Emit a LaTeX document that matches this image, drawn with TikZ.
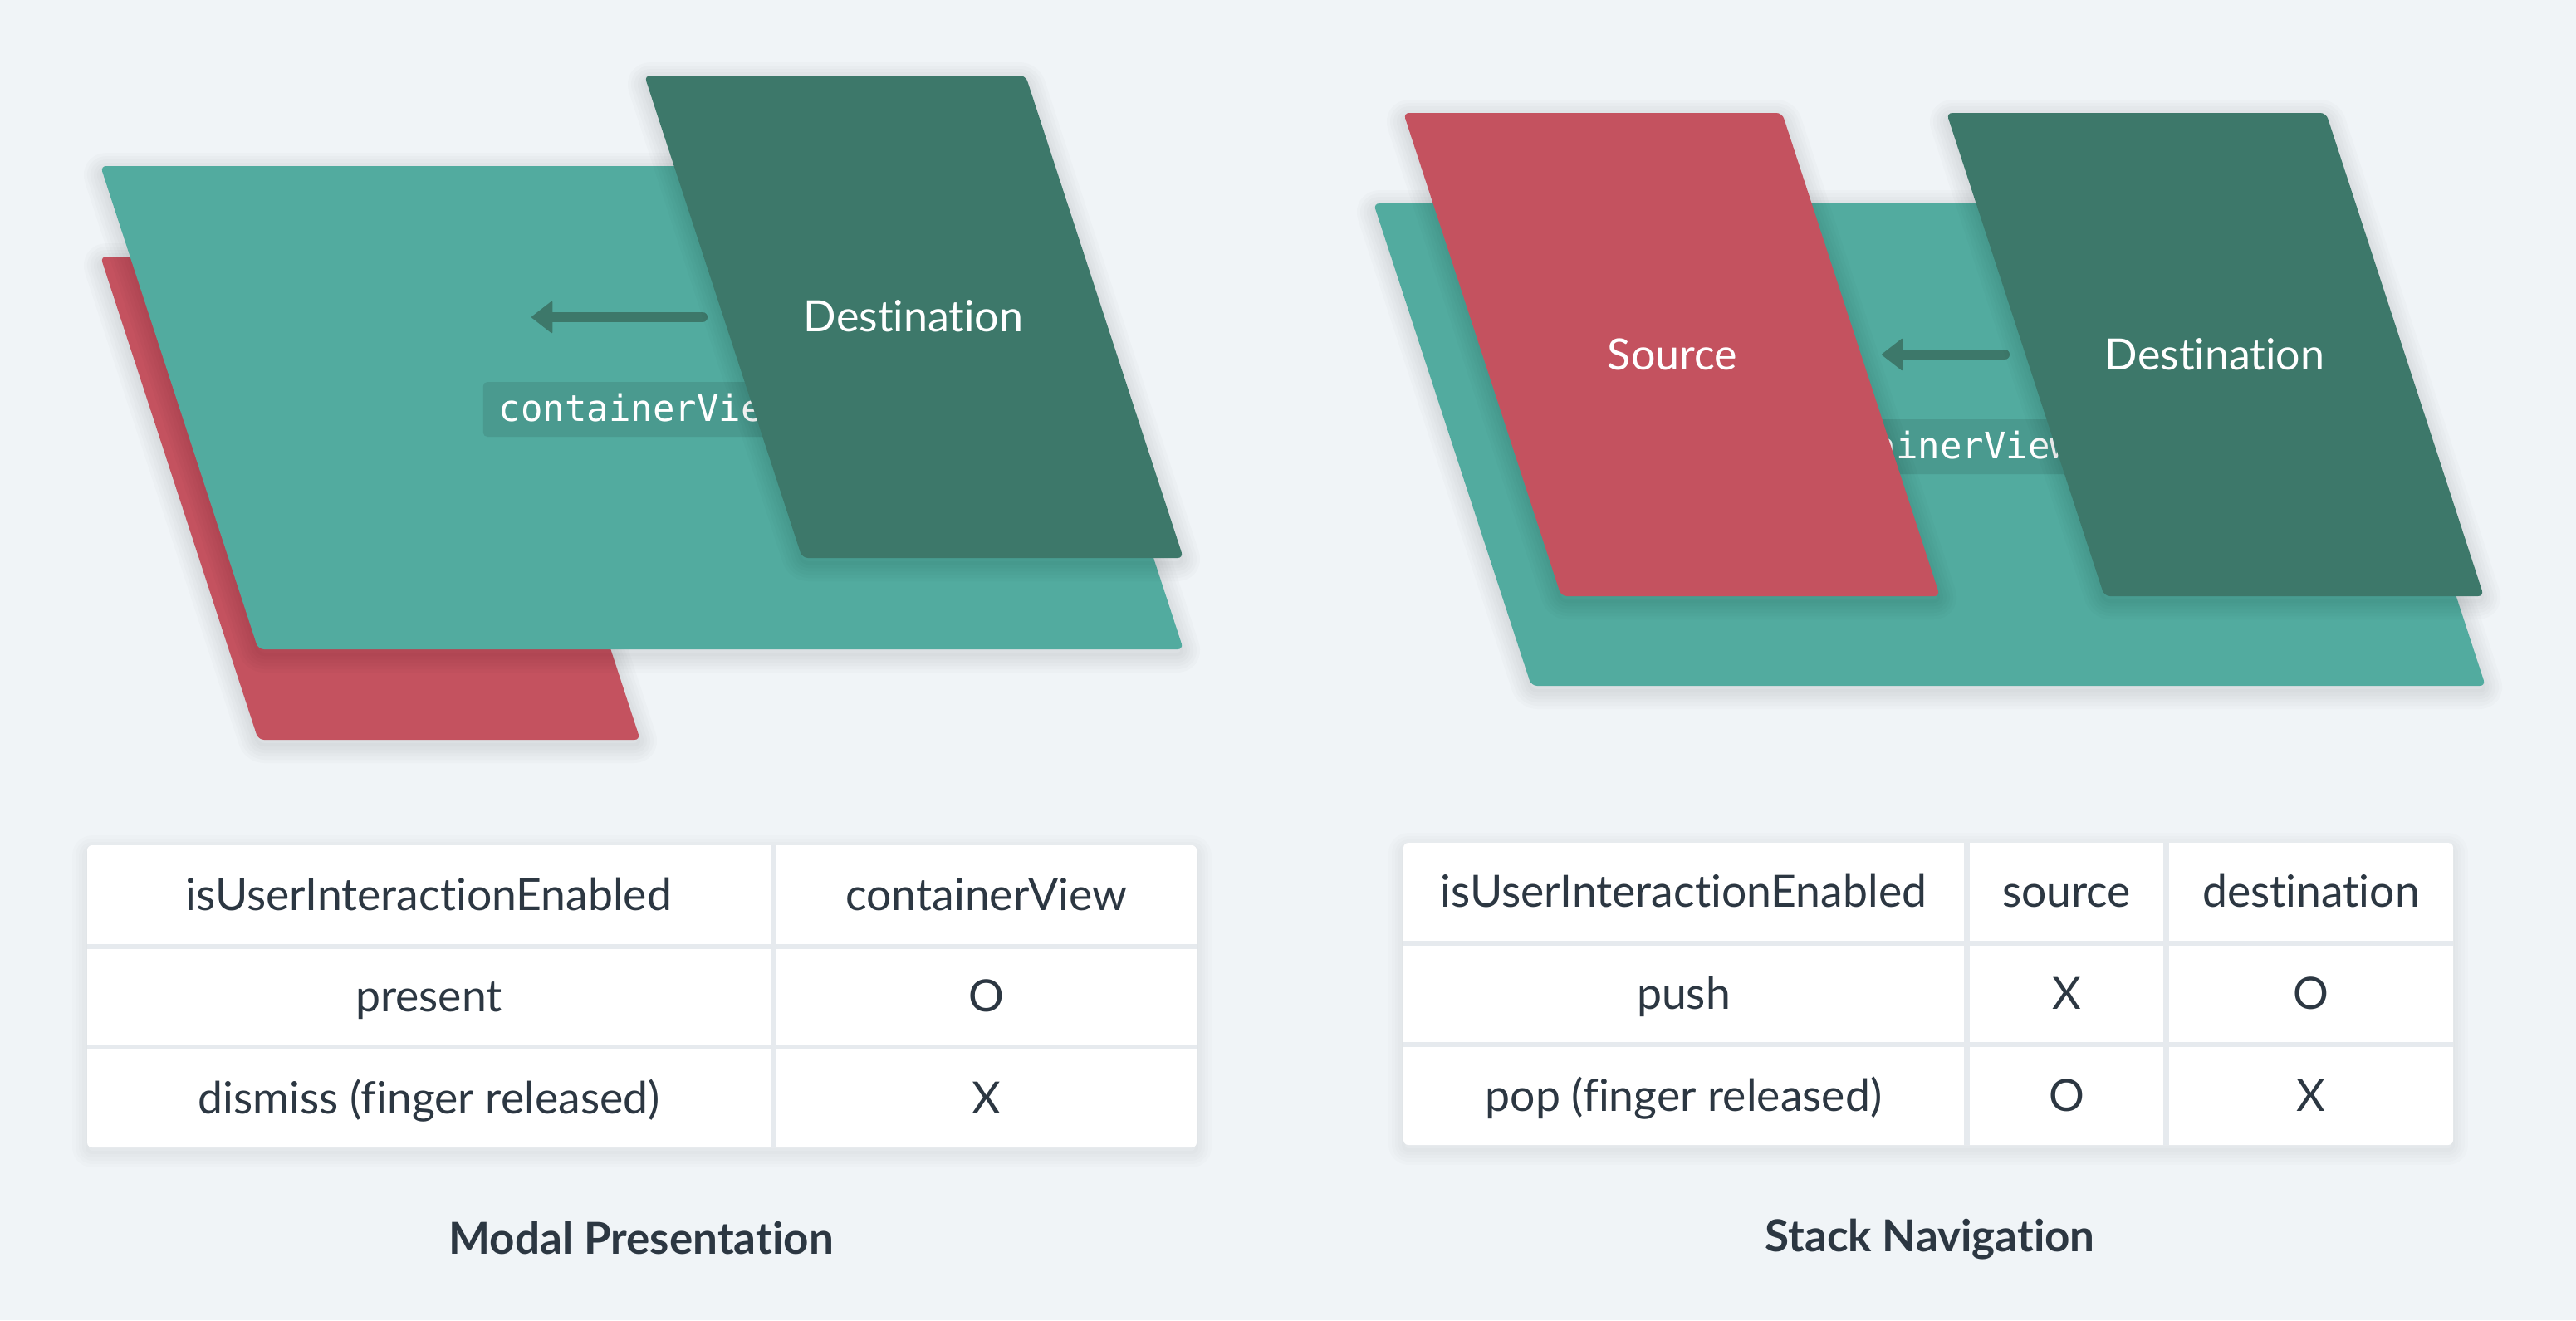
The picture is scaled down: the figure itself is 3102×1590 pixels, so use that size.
\documentclass[tikz,border=0pt]{standalone}
\usepackage{fontspec}
\setmainfont{Lato}[Ligatures=CommonOff]
\newfontfamily\codefont{DejaVu Sans Mono}
\usetikzlibrary{arrows.meta}
\definecolor{bgc}{HTML}{F0F4F7}
\definecolor{tealc}{HTML}{52AB9F}
\definecolor{darkc}{HTML}{3D786A}
\definecolor{redc}{HTML}{C4525F}
\definecolor{labc}{HTML}{4A9A8F}
\definecolor{inkc}{HTML}{2C3742}
\definecolor{gapc}{HTML}{E6EAEE}
\newcommand\mypanelshadow[1]{%
  \foreach \w in {44,36,28,20,12,4}{\draw[black,opacity=0.016,line width=\w pt,line join=round,rounded corners=7pt,yshift=-6pt] #1;}}
\newcommand\mytableshadow[1]{%
  \foreach \w in {36,28,20,12,4}{\draw[black,opacity=0.010,line width=\w pt,line join=round,rounded corners=6pt,yshift=-6pt] #1;}}
\begin{document}
\begin{tikzpicture}[x=1pt,y=-1pt,
  panel/.style={rounded corners=7pt},
  tablebox/.style={fill=white,rounded corners=6pt},
  gapline/.style={draw=gapc,line cap=butt},
  paneltext/.style={text=white,font=\fontsize{52}{62}\selectfont,inner sep=0pt,anchor=center},
  codetext/.style={fill=labc,text=white,rounded corners=5pt,font=\codefont\fontsize{44}{52}\selectfont,
    inner xsep=19pt,inner ysep=0pt,minimum height=66pt,text height=28pt,text depth=0pt},
  celltext/.style={text=inkc,font=\fontsize{53.5}{63}\selectfont,inner sep=0pt,text height=37pt,text depth=0pt},
  titletext/.style={text=inkc,font=\bfseries\fontsize{53}{63}\selectfont,inner sep=0pt,text height=38pt,text depth=0pt},
  arrowc/.style={draw=darkc,line width=12pt,line cap=round,
    -{Triangle[length=26pt,width=40pt,line width=2pt,round]}}
]
\useasboundingbox (0,0) rectangle (3102,1590);
\fill[bgc] (0,0) rectangle (3102,1590);

% ---------- Left panel: Modal Presentation ----------
\mypanelshadow{(121,309) -- (581,309) -- (771,891) -- (311,891) -- cycle}
\fill[redc,panel] (121,309) -- (581,309) -- (771,891) -- (311,891) -- cycle;
\mypanelshadow{(121,200) -- (1235,200) -- (1425,782) -- (311,782) -- cycle}
\fill[tealc,panel] (121,200) -- (1235,200) -- (1425,782) -- (311,782) -- cycle;
\node[codetext] (lcv) at (773,493) {containerView};
\coordinate (la1) at (846,382);
\coordinate (la2) at (640,382);
\draw[arrowc] (la1) -- (la2);
\mypanelshadow{(776,91) -- (1235,91) -- (1425,672) -- (966,672) -- cycle}
\fill[darkc,panel] (776,91) -- (1235,91) -- (1425,672) -- (966,672) -- cycle;
\node[paneltext] (ldest) at (1100,381) {Destination};

% ---------- Right panel: Stack Navigation ----------
\mypanelshadow{(1654,245) -- (2803,245) -- (2993,826) -- (1844,826) -- cycle}
\fill[tealc,panel] (1654,245) -- (2803,245) -- (2993,826) -- (1844,826) -- cycle;
\node[codetext] (rcv) at (2323,538) {containerView};
\coordinate (ra1) at (2414,427);
\coordinate (ra2) at (2266,427);
\draw[arrowc] (ra1) -- (ra2);
\mypanelshadow{(1690,136) -- (2146,136) -- (2336,718) -- (1880,718) -- cycle}
\fill[redc,panel] (1690,136) -- (2146,136) -- (2336,718) -- (1880,718) -- cycle;
\node[paneltext] (rsrc) at (2014,427) {Source};
\mypanelshadow{(2344,136) -- (2801,136) -- (2991,718) -- (2534,718) -- cycle}
\fill[darkc,panel] (2344,136) -- (2801,136) -- (2991,718) -- (2534,718) -- cycle;
\node[paneltext] (rdest) at (2667,427) {Destination};

% ---------- Left table ----------
\mytableshadow{(105,1018) rectangle (1441,1382)}
\path[tablebox] (105,1018) rectangle (1441,1382);
\draw[gapline,line width=6pt] (105,1139.5) -- (1441,1139.5);
\draw[gapline,line width=6pt] (105,1261) -- (1441,1261);
\draw[gapline,line width=7pt] (931.5,1018) -- (931.5,1382);
\node[celltext] (l11) at (516.5,1077.5) {isUserInteractionEnabled};
\node[celltext] (l12) at (1188,1077.5) {containerView};
\node[celltext] (l21) at (516.5,1200) {present};
\node[celltext] (l22) at (1188,1200) {O};
\node[celltext] (l31) at (516.5,1323) {dismiss (finger released)};
\node[celltext] (l32) at (1188,1323) {X};

% ---------- Right table ----------
\mytableshadow{(1690,1015) rectangle (2954,1379)}
\path[tablebox] (1690,1015) rectangle (2954,1379);
\draw[gapline,line width=6pt] (1690,1136) -- (2954,1136);
\draw[gapline,line width=6pt] (1690,1258) -- (2954,1258);
\draw[gapline,line width=7pt] (2368.5,1015) -- (2368.5,1379);
\draw[gapline,line width=7pt] (2608.5,1015) -- (2608.5,1379);
\node[celltext] (r11) at (2027.5,1074) {isUserInteractionEnabled};
\node[celltext] (r12) at (2488.5,1074) {source};
\node[celltext] (r13) at (2783,1074) {destination};
\node[celltext] (r21) at (2027.5,1197) {push};
\node[celltext] (r22) at (2488.5,1197) {X};
\node[celltext] (r23) at (2783,1197) {O};
\node[celltext] (r31) at (2027.5,1320) {pop (finger released)};
\node[celltext] (r32) at (2488.5,1320) {O};
\node[celltext] (r33) at (2783,1320) {X};

% ---------- Titles ----------
\node[titletext] (ltitle) at (772,1491.5) {Modal Presentation};
\node[titletext] (rtitle) at (2324,1488.5) {Stack Navigation};
\end{tikzpicture}
\end{document}
